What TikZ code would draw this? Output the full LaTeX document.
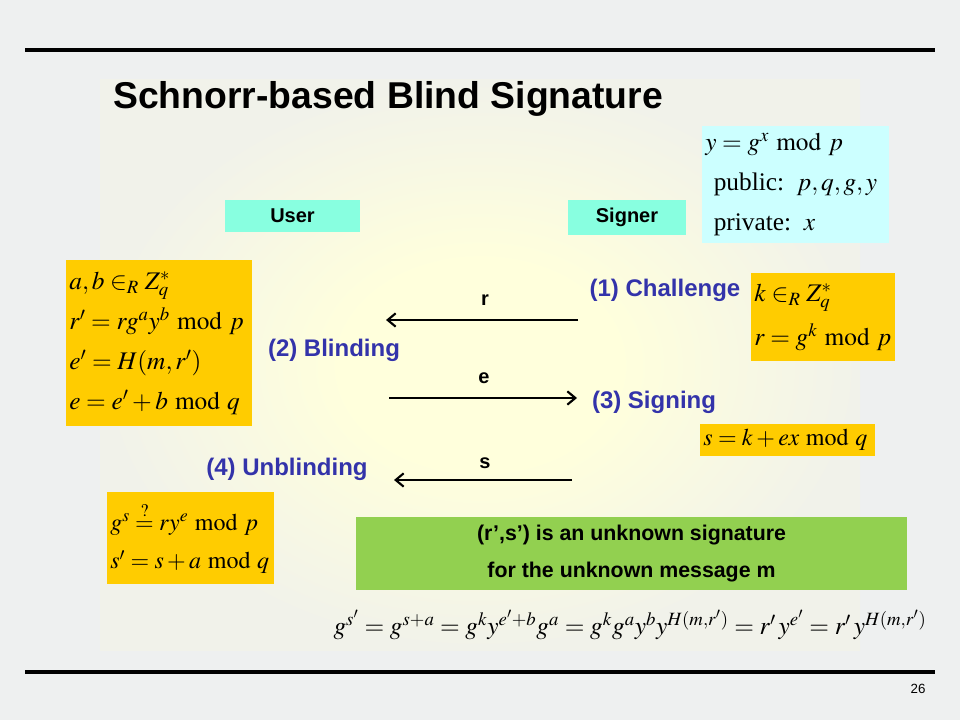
\documentclass[tikz,border=0pt]{standalone}
\usepackage{mathptmx}
\usepackage[no-math]{fontspec}
\setmainfont{Liberation Sans}
\newfontfamily\timesfont{Liberation Serif}
\usetikzlibrary{arrows.meta}

\definecolor{slidebg}{HTML}{EEF0F0}
\definecolor{glow}{HTML}{FFFFDC}
\definecolor{glowedge}{HTML}{F1F2EA}
\definecolor{rolebox}{HTML}{88FFE0}
\definecolor{keybox}{HTML}{CCFFFF}
\definecolor{mathbox}{HTML}{FFCC00}
\definecolor{notebox}{HTML}{92D050}
\definecolor{steptext}{HTML}{3333AA}
\pgfdeclareradialshading{slideglow}{\pgfpointorigin}{color(0bp)=(glow); color(9bp)=(glow); color(25bp)=(glowedge); color(50bp)=(glowedge)}
\newcommand{\md}{\mkern5mu\mathrm{mod}\mkern5mu}
\newcommand{\fline}[1]{\mbox{$#1$}}

\begin{document}
\begin{tikzpicture}[x=0.75pt, y=-0.75pt,
  role/.style={fill=rolebox, inner sep=0pt, font=\bfseries\fontsize{15}{18}\selectfont},
  formula/.style={fill=mathbox, inner xsep=2.5pt, inner ysep=0pt, align=left, font=\fontsize{19}{30}\selectfont},
  steplbl/.style={text=steptext, inner sep=0pt, font=\bfseries\fontsize{18}{20}\selectfont},
  msg/.style={inner sep=0pt, font=\bfseries\fontsize{15}{18}\selectfont},
  msgarrow/.style={-{Straight Barb[length=6pt, width=10pt, line width=1.6pt]}, line width=1.8pt}]

  % slide background
  \fill[slidebg] (0,0) rectangle (960,720);
  \shade[shading=slideglow] (100,80) rectangle (860,650);
  \draw[line width=2.4pt] (25,50) -- (935,50);
  \draw[line width=2.4pt] (25,672) -- (935,672);

  \node[anchor=west, inner sep=0pt, font=\bfseries\fontsize{28}{32}\selectfont] (title) at (113,99) {Schnorr-based Blind Signature};
  \node[inner sep=0pt, font=\fontsize{10}{12}\selectfont] (pageno) at (918,689) {26};

  % parties
  \node[role, minimum width=101.25pt, minimum height=24pt] (user) at (292.5,216) {User};
  \node[role, minimum width=88.5pt, minimum height=26.25pt] (signer) at (627,217.5) {Signer};

  % key of the signer
  \node[formula, fill=keybox, text width=135.25pt, minimum height=87.75pt] (keys) at (795.5,184.5)
    {\fline{y=g^x \md p}\\ \ {\timesfont public:} $p,q,g,y$\\ \ {\timesfont private:} $x$};

  % step (1)
  \node[formula, text width=103pt, minimum height=65.25pt, font=\fontsize{19}{33}\selectfont] (commit) at (823,317)
    {\fline{k\in_R Z_q^{*}}\\ \fline{r=g^k \md p}};
  \node[steplbl] (challenge) at (665,290) {(1) Challenge};

  % step (2)
  \node[formula, text width=134.5pt, minimum height=124.5pt] (blind) at (159,343)
    {\fline{a,b\in_R Z_q^{*}}\\ \fline{r'=rg^a y^b \md p}\\ \fline{e'=H(m,r')}\\ \fline{e=e'+b \md q}};
  \node[steplbl] (blinding) at (334,350) {(2) Blinding};

  % step (3)
  \node[formula, text width=126.25pt, minimum height=24pt, font=\fontsize{18}{30}\selectfont] (sign) at (787.5,440)
    {\fline{s=k+ex \md q}};
  \node[steplbl] (signing) at (654,402) {(3) Signing};

  % step (4)
  \node[formula, text width=120.25pt, minimum height=69pt, font=\fontsize{18}{30}\selectfont] (unblind) at (190.5,538)
    {\fline{g^s \stackrel{?}{=} ry^e \md p}\\[-1pt] \fline{s'=s+a \md q}};
  \node[steplbl] (unblinding) at (287,469) {(4) Unblinding};

  % messages
  \coordinate (rfrom) at (578,320);
  \coordinate (rto) at (386,320);
  \coordinate (efrom) at (389,398);
  \coordinate (eto) at (577,398);
  \coordinate (sfrom) at (572,480);
  \coordinate (sto) at (394,480);
  \draw[msgarrow] (rfrom) -- (rto);
  \draw[msgarrow] (efrom) -- (eto);
  \draw[msgarrow] (sfrom) -- (sto);
  \node[msg] (rmsg) at (485,300) {r};
  \node[msg] (emsg) at (484,378) {e};
  \node[msg] (smsg) at (485,463) {s};

  % result
  \node[fill=notebox, minimum width=413.25pt, minimum height=54.75pt, align=center,
    font=\bfseries\fontsize{16}{28}\selectfont] (note) at (631.5,553.5)
    {(r’,s’) is an unknown signature\\ for the unknown message m};
  \node[inner sep=0pt, font=\fontsize{19}{24}\selectfont] (check) at (630,625)
    {$g^{s'}=g^{s+a}=g^k y^{e'+b} g^a=g^k g^a y^b y^{H(m,r')}=r'\,y^{e'}=r'\,y^{H(m,r')}$};

\end{tikzpicture}
\end{document}
